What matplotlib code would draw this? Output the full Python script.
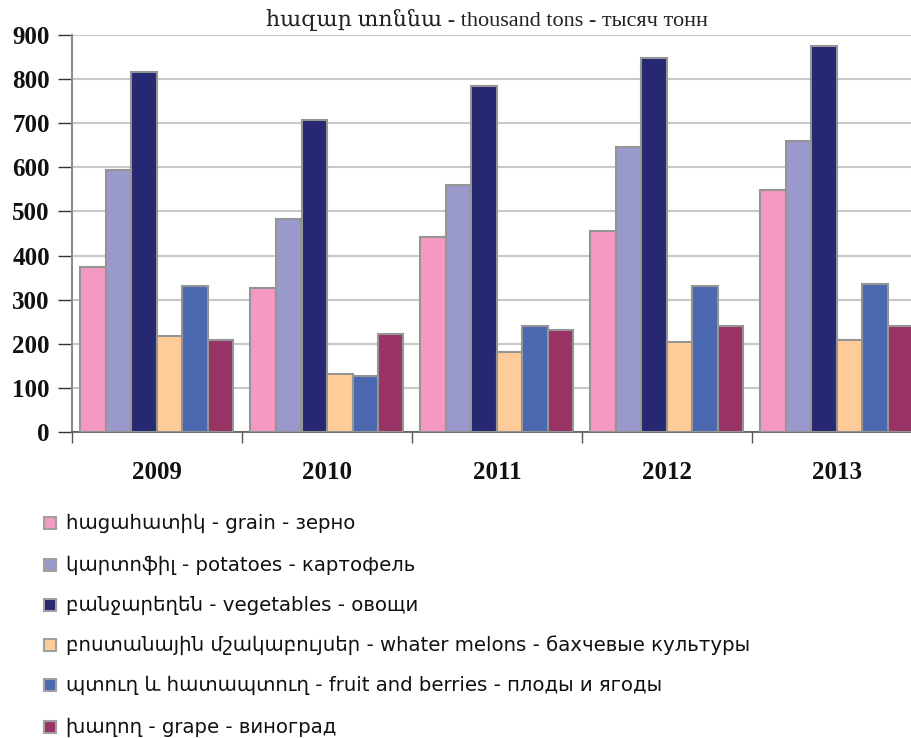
import matplotlib
matplotlib.use("Agg")
import matplotlib.pyplot as plt
import numpy as np
from matplotlib.patches import Rectangle

years = ["2009", "2010", "2011", "2012", "2013"]
labels = [
    "հացահատիկ - grain - зерно",
    "կարտոֆիլ - potatoes - картофель",
    "բանջարեղեն - vegetables - овощи",
    "բոստանային մշակաբույսեր - whater melons - бахчевые культуры",
    "պտուղ և հատապտուղ - fruit and berries - плоды и ягоды",
    "խաղող - grape - виноград",
]
grain = [373, 327, 441, 456, 549]
potatoes = [595, 483, 559, 646, 659]
vegetables = [817, 707, 785, 848, 876]
melons = [218, 132, 181, 205, 209]
fruit = [332, 128, 240, 331, 336]
grape = [209, 223, 231, 240, 240]
series = [grain, potatoes, vegetables, melons, fruit, grape]
colors = ["#F49AC2", "#9999CC", "#262872", "#FFCC99", "#4A69B1", "#993366"]
yticks = [0, 100, 200, 300, 400, 500, 600, 700, 800, 900]

serif = ["Liberation Serif", "DejaVu Serif"]
sans = ["DejaVu Sans"]

W, H = 912, 738
fig = plt.figure(figsize=(W / 100, H / 100), dpi=100)
left, right, top, bottom = 72, 922, 35, 432
ax = fig.add_axes([left / W, 1 - bottom / H, (right - left) / W, (bottom - top) / H])

x = np.arange(len(years))
bw = 0.15
for i, (vals, c) in enumerate(zip(series, colors)):
    ax.bar(x - 0.45 + bw * (i + 0.5), vals, width=bw, color=c,
           edgecolor="#959595", linewidth=1.5, zorder=3, label=labels[i])

ax.set_xlim(-0.5, len(years) - 0.5)
ax.set_ylim(0, 900)
ax.set_yticks(yticks)
ax.set_yticklabels([str(t) for t in yticks], fontfamily=serif, fontweight="bold",
                   fontsize=18, color="#111111")
ax.yaxis.grid(True, color="#C8C8C8", linewidth=1.5, zorder=0)
ax.set_xticks(np.arange(-0.5, len(years), 1.0))
ax.set_xticklabels([])
ax.set_xticks(x, minor=True)
ax.set_xticklabels(years, minor=True, fontfamily=serif, fontweight="bold",
                   fontsize=18, color="#111111")
ax.tick_params(axis="x", which="minor", length=0, pad=21)
ax.tick_params(axis="x", which="major", length=8, width=1, color="#555555", direction="out")
ax.tick_params(axis="y", length=10, width=1, color="#333333", pad=6)
for s in ["top", "right"]:
    ax.spines[s].set_visible(False)
ax.spines["left"].set_color("#8C8C8C")
ax.spines["left"].set_linewidth(1.5)
ax.spines["bottom"].set_color("#555555")
ax.spines["bottom"].set_linewidth(1.2)

fig.text(487 / W, 1 - 20 / H, "հազար տոննա - thousand tons - тысяч тонн",
         ha="center", va="center", fontsize=16, fontfamily=serif, color="#222222")

row_y = [523, 565, 605, 645, 685, 727]
for yy, c, lab in zip(row_y, colors, labels):
    fig.patches.append(Rectangle((44 / W, 1 - (yy + 6) / H), 12 / W, 12 / H,
                                 transform=fig.transFigure, facecolor=c,
                                 edgecolor="#A0A0A0", linewidth=1.5))
    fig.text(66 / W, 1 - yy / H, lab, ha="left", va="center", fontsize=14.2,
             fontfamily=sans, color="#111111")

fig.savefig("out.png", dpi=100)
